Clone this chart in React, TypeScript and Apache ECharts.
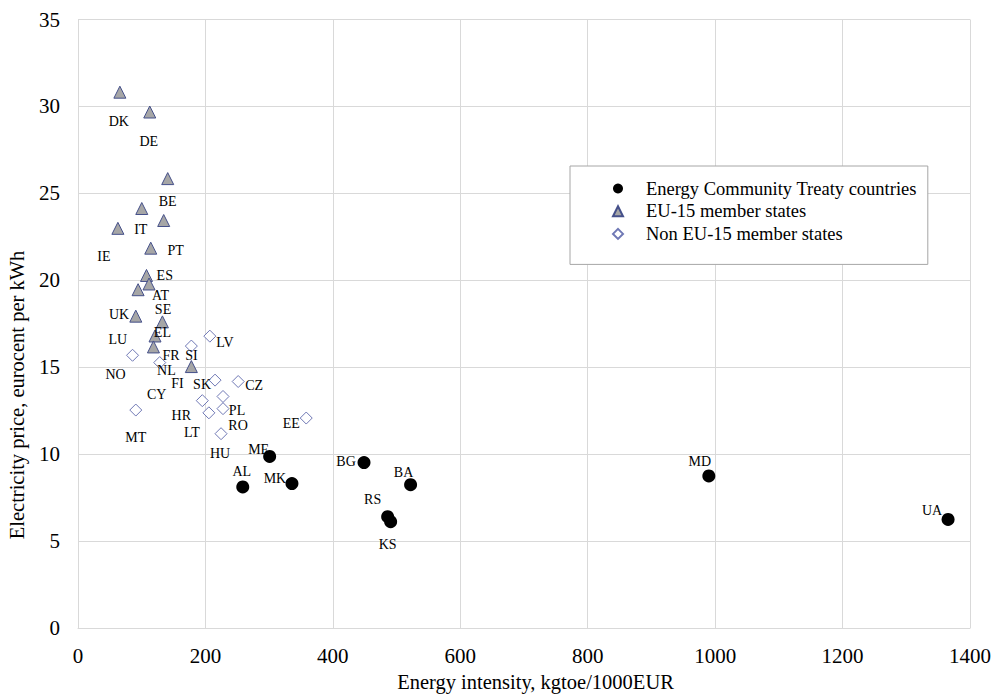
import React, { useEffect, useRef } from "react";
import * as echarts from "echarts";

// Energy Community Treaty countries
const ectNames = ["ME", "BG", "AL", "MK", "BA", "RS", "KS", "MD", "UA"];
const ectIntensity = [300.8, 448.9, 258.6, 335.8, 522.0, 486.0, 490.7, 990.1, 1365.6];
const ectPrice = [9.87, 9.52, 8.12, 8.31, 8.25, 6.41, 6.12, 8.75, 6.25];

// EU-15 member states
const eu15Names = ["DK", "DE", "BE", "IT", "PT", "IE", "ES", "AT", "SE", "UK", "LU", "EL", "FR", "NL", "FI"];
const eu15Intensity = [65.7, 112.6, 140.8, 100.1, 134.5, 62.6, 114.2, 107.5, 111.5, 94.3, 90.7, 132.5, 120.9, 118.4, 177.9];
const eu15Price = [30.82, 29.68, 25.85, 24.13, 23.44, 22.99, 21.85, 20.28, 19.79, 19.46, 17.94, 17.61, 16.8, 16.17, 15.04];

// Non EU-15 member states
const nonEuNames = ["LV", "SI", "NO", "CY", "SK", "CZ", "HR", "PL", "RO", "LT", "HU", "EE", "MT"];
const nonEuIntensity = [206.9, 177.9, 85.6, 128.3, 215.1, 251.4, 195.1, 227.6, 227.6, 205.4, 224.5, 358.2, 90.7];
const nonEuPrice = [16.79, 16.22, 15.69, 15.27, 14.26, 14.18, 13.08, 13.32, 12.62, 12.38, 11.18, 12.08, 12.54];

const seriesNames = ["Energy Community Treaty countries", "EU-15 member states", "Non EU-15 member states"];
const xTitle = "Energy intensity, kgtoe/1000EUR";
const yTitle = "Electricity price, eurocent per kWh";

// label placement (pixel offset of each country code from its marker)
const labelOffsets: Record<string, [number, number]> = {
  ME: [-11, -7], BG: [-18, -1], AL: [-1, -15], MK: [-17, -5], BA: [-7, -12], RS: [-15, -17], KS: [-3, 23], MD: [-9, -14], UA: [-16, -9],
  DK: [-1, 29], DE: [-1, 29], BE: [0, 23], IT: [-1, 21], PT: [12, 30], IE: [-14, 28], ES: [14, 27], AT: [14, 20], SE: [14, 26],
  UK: [-19, 25], LU: [-18, 23], EL: [0, 11], FR: [16, 20], NL: [13, 24], FI: [-14, 17],
  LV: [15, 6], SI: [0, 9], NO: [-17, 19], CY: [-3, 32], SK: [-13, 4], CZ: [16, 4], HR: [-21, 15], PL: [14, 14], RO: [15, 17],
  LT: [-17, 20], HU: [-1, 20], EE: [-15, 5], MT: [0, 27],
};

const FONT = "'Liberation Serif', 'Times New Roman', serif";

function buildData(names: string[], xs: number[], ys: number[]) {
  return names.map((n, i) => ({
    name: n,
    value: [xs[i], ys[i]],
    label: { offset: labelOffsets[n] || [0, 0] },
  }));
}

export default function App() {
  const ref = useRef<HTMLDivElement>(null);
  useEffect(() => {
    document.body.style.margin = "0";
    const chart = echarts.init(ref.current!, null, { renderer: "svg" });
    const labelCommon = {
      show: true,
      position: "inside" as const,
      formatter: "{b}",
      color: "#000",
      textBorderWidth: 0,
      fontSize: 14,
      fontFamily: FONT,
    };
    chart.setOption({
      animation: false,
      backgroundColor: "#fff",
      textStyle: { fontFamily: FONT },
      grid: { left: 78, right: 22, top: 19.5, bottom: 64.5, containLabel: false },
      legend: {
        orient: "vertical",
        left: 570,
        top: 166,
        itemWidth: 10,
        itemHeight: 10,
        itemGap: 3.7,
        padding: [13, 11, 21, 42],
        backgroundColor: "#fff",
        borderColor: "#a6a6a6",
        borderWidth: 1,
        textStyle: { fontSize: 18.5, fontFamily: FONT, color: "#000", lineHeight: 18, padding: [0, 0, 0, 18] },
        data: seriesNames,
      },
      xAxis: {
        type: "value",
        min: 0,
        max: 1400,
        interval: 200,
        name: xTitle,
        nameLocation: "middle",
        nameGap: 41,
        nameTextStyle: { fontSize: 20.5, fontFamily: FONT, color: "#000", padding: [0, 0, 0, 23] },
        axisLine: { show: true, lineStyle: { color: "#d9d9d9", width: 1 } },
        axisTick: { show: false },
        axisLabel: { fontSize: 21, fontFamily: FONT, color: "#000", margin: 17, formatter: (v: number) => String(v) },
        splitLine: { show: true, lineStyle: { color: "#d9d9d9", width: 1 } },
      },
      yAxis: {
        type: "value",
        min: 0,
        max: 35,
        interval: 5,
        axisLine: { show: true, lineStyle: { color: "#d9d9d9", width: 1 } },
        axisTick: { show: false },
        axisLabel: { fontSize: 21, fontFamily: FONT, color: "#000", margin: 18, formatter: (v: number) => String(v) },
        splitLine: { show: true, lineStyle: { color: "#d9d9d9", width: 1 } },
      },
      graphic: [
        {
          type: "text",
          x: 17,
          y: 395,
          rotation: Math.PI / 2,
          style: {
            text: yTitle,
            fontSize: 20.5,
            fontFamily: FONT,
            fill: "#000",
            align: "center",
            verticalAlign: "middle",
          },
        },
      ],
      series: [
        {
          name: seriesNames[0],
          type: "scatter",
          symbol: "circle",
          symbolSize: 13,
          itemStyle: { color: "#000", opacity: 1 },
          label: labelCommon,
          data: buildData(ectNames, ectIntensity, ectPrice),
        },
        {
          name: seriesNames[1],
          type: "scatter",
          symbol: "triangle",
          symbolSize: 12,
          itemStyle: { color: "#a6a6a6", borderColor: "#45508a", borderWidth: 1, opacity: 1 },
          label: labelCommon,
          data: buildData(eu15Names, eu15Intensity, eu15Price),
        },
        {
          name: seriesNames[2],
          type: "scatter",
          symbol: "diamond",
          symbolSize: 12,
          itemStyle: { color: "#fff", borderColor: "#6f78b5", borderWidth: 1, opacity: 1 },
          label: labelCommon,
          data: buildData(nonEuNames, nonEuIntensity, nonEuPrice),
        },
      ],
    });
    return () => chart.dispose();
  }, []);
  return (
    <div
      ref={ref}
      style={{ position: "absolute", left: 0, top: 0, width: 994, height: 697 }}
    />
  );
}
